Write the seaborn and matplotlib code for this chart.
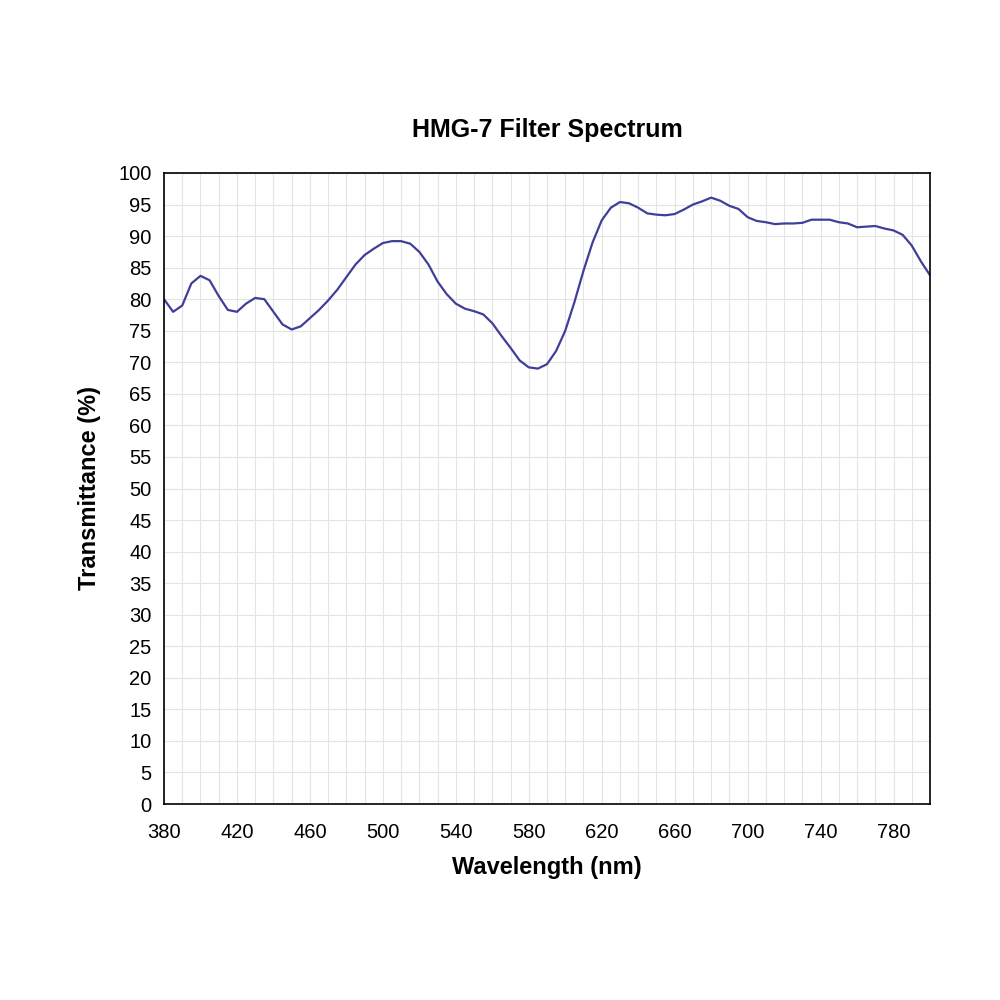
import matplotlib
matplotlib.use("Agg")
import matplotlib.pyplot as plt
import seaborn as sns
import numpy as np
import pandas as pd

wavelength = list(range(380, 801, 5))
transmittance = [80, 78, 79, 82.5, 83.7, 83, 80.5, 78.3, 78, 79.3, 80.2, 80, 78, 76, 75.2, 75.7, 77, 78.3,
                 79.8, 81.5, 83.5, 85.5, 87, 88, 88.9, 89.2, 89.2, 88.8, 87.5, 85.5, 82.8, 80.8, 79.3, 78.5,
                 78.1, 77.6, 76.2, 74.2, 72.3, 70.3, 69.2, 69, 69.7, 71.8, 75, 79.5, 84.5, 89, 92.5, 94.5,
                 95.4, 95.2, 94.5, 93.6, 93.4, 93.3, 93.5, 94.2, 95, 95.5, 96.1, 95.6, 94.8, 94.3, 93, 92.4,
                 92.2, 91.9, 92, 92, 92.1, 92.6, 92.6, 92.6, 92.2, 92, 91.4, 91.5, 91.6, 91.2, 90.9, 90.2,
                 88.5, 86, 83.8]
df = pd.DataFrame({"wl": wavelength, "t": transmittance})

sns.set_theme(style="white")
plt.rcParams['font.family'] = ['Liberation Sans', 'DejaVu Sans']

fig = plt.figure(figsize=(10, 10), dpi=100)
ax = fig.add_axes([0.164, 0.196, 0.766, 0.631])
sns.lineplot(data=df, x="wl", y="t", ax=ax, color="#3f3f99", linewidth=1.6)
ax.set_xlim(380, 800)
ax.set_ylim(0, 100)
ax.set_xticks(range(380, 800, 40))
ax.set_xticks(range(380, 801, 10), minor=True)
ax.set_yticks(range(0, 101, 5))
ax.grid(which="both", color="#e4e4e4", linewidth=0.8)
ax.set_axisbelow(True)
for s in ax.spines.values():
    s.set_color("black"); s.set_linewidth(1.2)
ax.tick_params(axis="both", which="major", labelsize=14.5, colors="black", length=0)
ax.tick_params(axis="x", pad=14)
ax.tick_params(axis="y", pad=9)
ax.tick_params(which="minor", length=0)
ax.set_xlabel("Wavelength (nm)", fontsize=17, fontweight="bold", labelpad=10, color="black")
ax.set_ylabel("Transmittance (%)", fontsize=17, fontweight="bold", labelpad=12, color="black")
ax.set_title("HMG-7 Filter Spectrum", fontsize=18, fontweight="bold", pad=26, color="black")
fig.savefig("out.png", dpi=100, facecolor="white")
